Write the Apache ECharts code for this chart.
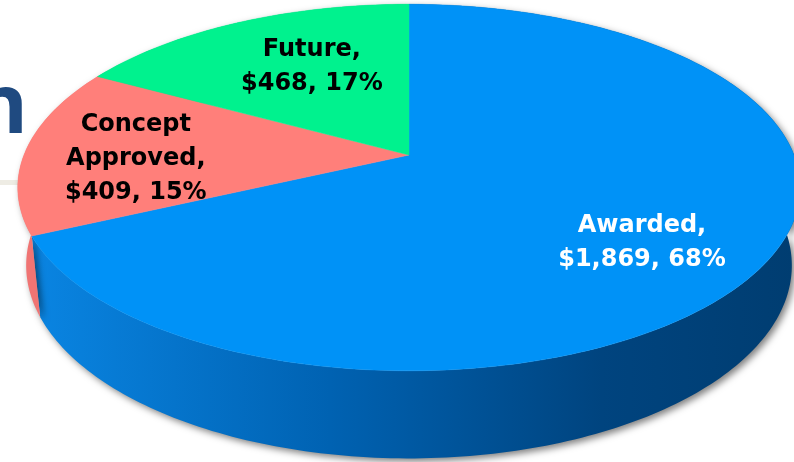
<!DOCTYPE html>
<html>
<head>
<meta charset="utf-8">
<title>Pipeline</title>
<script src="https://cdn.jsdelivr.net/npm/echarts@6/dist/echarts.min.js"></script>
<style>
  html, body { margin: 0; padding: 0; background: #fff; }
  #chart { width: 794px; height: 462px; }
</style>
</head>
<body>
<div id="chart"></div>
<script>
// Data
const categories = ['Awarded', 'Concept Approved', 'Future'];
const values = [1869, 409, 468];

// Styles
const topColors = ['#0092f7', '#ff7f7a', '#00f28e'];
const labelColors = ['#ffffff', '#000000', '#000000'];
const labelNudge = [[8, 22], [-24, 7], [19, 2]];

// Fake 3D projection (pie lies flat, camera tilted, mild perspective)
const CX = 409, CY = 155, F = 1925;
const R = 0.2, SIN_T = 0.461, COS_T = 0.887, DEPTH = 0.046;
const LABEL_R = 0.65;

function proj(theta, h, r) {
  const rr = r === undefined ? R : r;
  const X = rr * Math.sin(theta);
  const D = rr * Math.cos(theta);
  const z = 1 + D * COS_T - h * SIN_T;
  return [CX + F * X / z, CY - F * (D * SIN_T + h * COS_T) / z];
}

function rim(a0, a1, h) {
  const pts = [];
  const n = Math.max(2, Math.ceil((a1 - a0) / (Math.PI / 180)));
  for (let i = 0; i <= n; i++) pts.push(proj(a0 + (a1 - a0) * i / n, h));
  return pts;
}

const total = values.reduce((a, b) => a + b, 0);
const starts = [];
let acc = 0;
values.forEach(v => { starts.push(acc); acc += v; });

function angles(idx, v) {
  const a0 = starts[idx] / total * Math.PI * 2;
  const a1 = (starts[idx] + v) / total * Math.PI * 2;
  return [a0, a1];
}

const sideFills = [
  new echarts.graphic.LinearGradient(20, 0, 795, 0, [
    { offset: 0, color: '#0a86e4' },
    { offset: 0.4, color: '#0062b2' },
    { offset: 0.75, color: '#00447f' },
    { offset: 1, color: '#003d71' }
  ], true),
  '#f07473',
  '#00c877'
];

const chart = echarts.init(document.getElementById('chart'), null, { renderer: 'canvas' });

chart.setOption({
  backgroundColor: '#ffffff',
  animation: false,
  graphic: [
    {
      type: 'rect', z: 0,
      shape: { x: 0, y: 180, width: 60, height: 5 },
      style: { fill: '#eeece4' }
    },
    {
      type: 'text', z: 0,
      style: {
        text: 'n', x: 28, y: 110,
        align: 'right', verticalAlign: 'middle',
        font: 'bold 82px "Open Sans"', fill: '#1f4a80'
      }
    }
  ],
  series: [
    {
      // side walls
      type: 'custom',
      coordinateSystem: 'none',
      z: 5,
      data: values.map((v, i) => ({ name: categories[i], value: v })),
      renderItem: function (params, api) {
        const i = params.dataIndex;
        const [a0, a1] = angles(i, api.value(0));
        const pts = rim(a0, a1, 0).concat(rim(a0, a1, -DEPTH).reverse());
        return {
          type: 'polygon',
          shape: { points: pts },
          style: {
            fill: sideFills[i],
            shadowBlur: 7,
            shadowColor: 'rgba(0,0,0,0.5)',
            shadowOffsetX: 3,
            shadowOffsetY: 3
          }
        };
      }
    },
    {
      // top faces + labels
      type: 'custom',
      coordinateSystem: 'none',
      z: 6,
      data: values.map((v, i) => ({ name: categories[i], value: v })),
      renderItem: function (params, api) {
        const i = params.dataIndex;
        const v = api.value(0);
        const [a0, a1] = angles(i, v);
        const pts = [[CX, CY]].concat(rim(a0, a1, 0));
        const mid = (a0 + a1) / 2;
        const lp = proj(mid, 0, R * LABEL_R);
        const pct = Math.round(v / total * 100);
        const text = categories[i].replace(' ', '\n') + ',\n$' +
          v.toLocaleString('en-US') + ', ' + pct + '%';
        return {
          type: 'group',
          children: [
            {
              type: 'polygon',
              shape: { points: pts },
              style: { fill: topColors[i], stroke: topColors[i], lineWidth: 0.5 }
            },
            {
              type: 'text',
              z2: 10,
              style: {
                text: text,
                x: lp[0] + labelNudge[i][0],
                y: lp[1] + labelNudge[i][1],
                align: 'center',
                verticalAlign: 'middle',
                fill: labelColors[i],
                fontFamily: 'DejaVu Sans',
                fontWeight: 'bold',
                fontSize: 24,
                lineHeight: 34
              }
            }
          ]
        };
      }
    }
  ]
});
</script>
</body>
</html>
